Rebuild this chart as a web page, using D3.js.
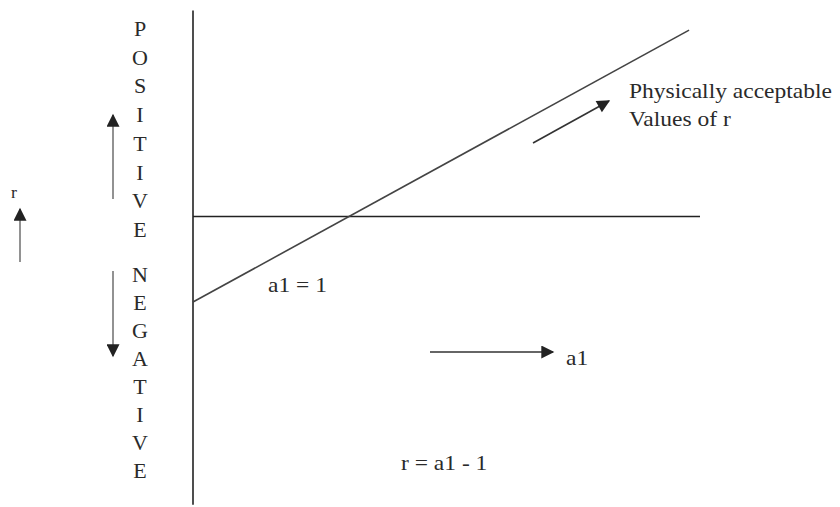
<!DOCTYPE html>
<html>
<head>
<meta charset="utf-8">
<script src="https://cdn.jsdelivr.net/npm/d3@7"></script>
<style>
  body { margin: 0; background: #fff; }
  text { font-family: "Liberation Serif", "Times New Roman", serif; fill: #2a2a2a; }
</style>
</head>
<body>
<script>
// r = a1 - 1, drawn from a1 = 0 up to the top right
const lineA1 = [0, 3.18];
const lineR = [-1, 2.18];
const axisA1 = [0, 3.25];
const axisR = [-3.37, 2.41];
const positiveLetters = ["P", "O", "S", "I", "T", "I", "V", "E"];
const negativeLetters = ["N", "E", "G", "A", "T", "I", "V", "E"];

window.onload = function () {
    const w = 840, h = 507;

    const x = d3.scaleLinear().domain([0, 1]).range([193, 349]);
    const y = d3.scaleLinear().domain([-1, 0]).range([302, 216.5]);

    const svg = d3.select("body").append("svg")
        .attr("width", w)
        .attr("height", h);

    svg.append("defs").append("marker")
        .attr("id", "head")
        .attr("viewBox", "0 0 10 10")
        .attr("refX", 9).attr("refY", 5)
        .attr("markerWidth", 14).attr("markerHeight", 13)
        .attr("markerUnits", "userSpaceOnUse")
        .attr("orient", "auto")
        .append("path")
        .attr("d", "M0,0L10,5L0,10Z")
        .attr("fill", "#222");

    // axes
    svg.append("line")
        .attr("x1", x(0)).attr("x2", x(0))
        .attr("y1", y(axisR[1])).attr("y2", y(axisR[0]))
        .attr("stroke", "#222").attr("stroke-width", 1.6);

    svg.append("line")
        .attr("x1", x(axisA1[0])).attr("x2", x(axisA1[1]))
        .attr("y1", y(0)).attr("y2", y(0))
        .attr("stroke", "#222").attr("stroke-width", 1.6);

    // r = a1 - 1
    const pts = lineA1.map((a, i) => [a, lineR[i]]);
    svg.append("path")
        .datum(pts)
        .attr("d", d3.line().x(d => x(d[0])).y(d => y(d[1])))
        .attr("fill", "none")
        .attr("stroke", "#444")
        .attr("stroke-width", 1.6);

    // vertical words
    svg.selectAll(".pos")
        .data(positiveLetters)
        .enter().append("text")
        .attr("x", 140)
        .attr("y", (d, i) => 36 + i * 28.7)
        .attr("text-anchor", "middle")
        .attr("font-size", 22)
        .text(d => d);

    svg.selectAll(".neg")
        .data(negativeLetters)
        .enter().append("text")
        .attr("x", 140)
        .attr("y", (d, i) => 282 + i * 28)
        .attr("text-anchor", "middle")
        .attr("font-size", 22)
        .text(d => d);

    // arrows
    const arrows = [
        [113, 199, 113, 115],
        [113, 271, 113, 356],
        [20, 262, 20, 209],
        [533, 143, 609, 101],
        [430, 352, 553, 352]
    ];
    svg.selectAll(".arrow")
        .data(arrows)
        .enter().append("line")
        .attr("x1", d => d[0]).attr("y1", d => d[1])
        .attr("x2", d => d[2]).attr("y2", d => d[3])
        .attr("stroke", (d, i) => i < 3 ? "#777" : "#333")
        .attr("stroke-width", 1.6)
        .attr("marker-end", "url(#head)");

    // labels, slightly wide like the scanned original
    const labels = [
        {t: "r", x: 11, y: 198, s: 16},
        {t: "Physically acceptable", x: 629, y: 98, s: 21},
        {t: "Values of r", x: 629, y: 126, s: 21},
        {t: "a1 = 1", x: 268, y: 292, s: 21},
        {t: "a1", x: 566, y: 365, s: 21},
        {t: "r = a1 - 1", x: 401, y: 470, s: 21}
    ];
    svg.selectAll(".lbl")
        .data(labels)
        .enter().append("text")
        .attr("transform", d => `translate(${d.x},${d.y}) scale(1.12,1)`)
        .attr("font-size", d => d.s)
        .text(d => d.t);
};
</script>
</body>
</html>
